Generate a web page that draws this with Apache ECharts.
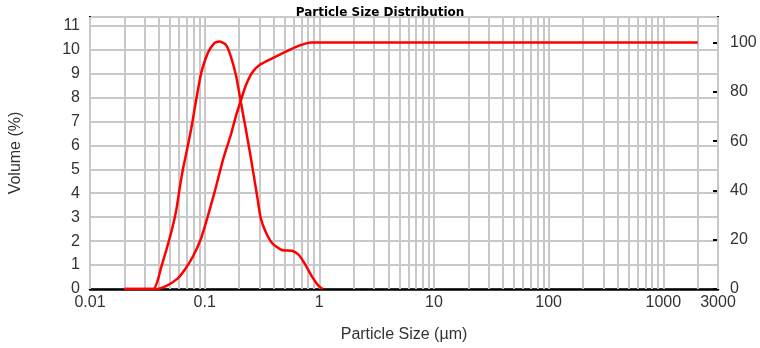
<!DOCTYPE html>
<html>
<head>
<meta charset="utf-8">
<script src="https://cdn.jsdelivr.net/npm/echarts@6/dist/echarts.min.js"></script>
<style>
  html, body { margin: 0; padding: 0; background: #fff; }
  #chart { width: 760px; height: 348px; }
</style>
</head>
<body>
<div id="chart"></div>
<script>
// 频率曲线 (左轴, Volume %)
var freqSizes = [0.02, 0.0356, 0.042, 0.0513, 0.0566, 0.0605, 0.0646, 0.068, 0.0764, 0.0846, 0.0935, 0.1065, 0.1216, 0.134, 0.153, 0.169, 0.188, 0.207, 0.228, 0.253, 0.27, 0.288, 0.307, 0.34, 0.39, 0.47, 0.58, 0.66, 0.755, 0.86, 0.99, 1.07];
var freqValues = [0, 0, 0.95, 2.4, 3.3, 4.2, 5.0, 5.5, 6.7, 7.94, 9.04, 9.86, 10.27, 10.34, 10.2, 9.72, 8.9, 7.8, 6.7, 5.47, 4.65, 3.83, 3.0, 2.39, 1.9, 1.63, 1.6, 1.43, 1.02, 0.53, 0.12, 0];

// 累积曲线 (右轴)
var cumSizes = [0.02, 0.037, 0.046, 0.058, 0.067, 0.079, 0.093, 0.106, 0.123, 0.146, 0.169, 0.188, 0.207, 0.228, 0.26, 0.307, 0.4, 0.49, 0.6, 0.71, 0.85, 2000];
var cumValues = [0, 0, 1.2, 4.2, 7.8, 13.2, 20.5, 29.2, 39.9, 53.2, 62.5, 70.5, 76.5, 82.5, 87.9, 91.2, 93.9, 95.9, 97.9, 99.2, 100, 100];

// 对数网格线
var decades = [0.01, 0.1, 1, 10, 100, 1000];
var multipliers = [1, 2, 3, 4, 5, 6, 7, 8, 9];
var gridSizes = [];
decades.forEach(function (d) {
    multipliers.forEach(function (m) {
        var v = +(d * m).toPrecision(3);
        if (v <= 3000) gridSizes.push(v);
    });
});

function pairs(xs, ys) {
    return xs.map(function (x, i) { return [x, ys[i]]; });
}

var labelFont = { fontFamily: 'Liberation Sans', fontSize: 16, color: '#333' };

var myChart = echarts.init(document.getElementById('chart'));
var option = {
    animation: false,
    title: {
        text: 'Particle Size Distribution',
        left: 'center',
        top: 2,
        textStyle: { fontFamily: 'DejaVu Sans', fontSize: 12, fontWeight: 'bold', color: '#000' }
    },
    grid: {
        left: 88, right: 42, top: 17, bottom: 55,
        show: true, borderColor: '#000', borderWidth: 2
    },
    xAxis: {
        type: 'log',
        logBase: 10,
        min: 0.01,
        max: 3000,
        name: 'Particle Size (µm)',
        nameLocation: 'middle',
        nameGap: 38,
        nameTextStyle: labelFont,
        axisLine: { lineStyle: { color: '#000', width: 2.5 } },
        axisTick: { show: false },
        splitLine: { show: false },
        axisLabel: Object.assign({
            margin: 6,
            formatter: function (v) { return String(+v.toPrecision(4)); }
        }, labelFont)
    },
    yAxis: [
        {
            type: 'value',
            min: 0,
            max: 11.36,
            interval: 1,
            name: 'Volume (%)',
            nameLocation: 'middle',
            nameGap: 66,
            nameTextStyle: labelFont,
            axisLine: { show: true, lineStyle: { color: '#000', width: 2 } },
            axisTick: { show: false },
            splitLine: { lineStyle: { color: '#c8c8c8', width: 2 } },
            axisLabel: Object.assign({ margin: 10, showMaxLabel: false }, labelFont)
        },
        {
            type: 'value',
            min: 0,
            max: 110.4,
            interval: 20,
            position: 'right',
            axisLine: { show: true, lineStyle: { color: '#000', width: 2 } },
            axisTick: { show: true, inside: true, length: 5, lineStyle: { color: '#000', width: 2 } },
            splitLine: { show: false },
            axisLabel: Object.assign({ margin: 12, showMaxLabel: false }, labelFont)
        }
    ],
    series: [
        {
            name: 'grid',
            type: 'line',
            data: [],
            z: 1,
            silent: true,
            markLine: {
                silent: true,
                symbol: 'none',
                label: { show: false },
                lineStyle: { color: '#c8c8c8', width: 2, type: 'solid' },
                data: gridSizes.map(function (v) { return { xAxis: v }; })
            }
        },
        {
            name: 'Volume',
            type: 'line',
            yAxisIndex: 0,
            z: 5,
            smooth: 0.2,
            showSymbol: false,
            lineStyle: { color: '#ff0000', width: 2.5 },
            data: pairs(freqSizes, freqValues)
        },
        {
            name: 'Cumulative',
            type: 'line',
            yAxisIndex: 1,
            z: 5,
            smooth: 0.2,
            showSymbol: false,
            lineStyle: { color: '#ff0000', width: 2.5 },
            data: pairs(cumSizes, cumValues)
        }
    ]
};
myChart.setOption(option);
</script>
</body>
</html>
